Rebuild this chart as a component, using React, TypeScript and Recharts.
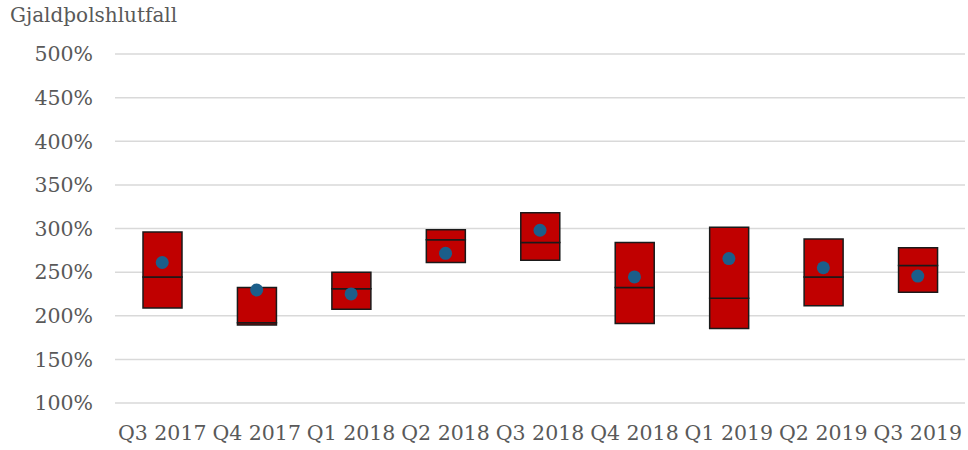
import { ComposedChart, Bar, Line, XAxis, YAxis, CartesianGrid } from 'recharts'

const quarters = ['Q3 2017', 'Q4 2017', 'Q1 2018', 'Q2 2018', 'Q3 2018', 'Q4 2018', 'Q1 2019', 'Q2 2019', 'Q3 2019']
const lowQuartile = [209, 189.5, 207.5, 261, 263.5, 191, 185.5, 211.5, 227]
const medians = [244.5, 192, 231, 287, 284, 232.5, 220, 244.5, 257.5]
const highQuartile = [296, 232.5, 250, 298.5, 318, 284, 301.5, 288, 278]
const means = [261, 229.5, 225, 271.5, 298, 244.5, 265.5, 255, 245.5]
const yTicks = [100, 150, 200, 250, 300, 350, 400, 450, 500]

const data = quarters.map((q, i) => ({
  q,
  base: lowQuartile[i],
  lower: medians[i] - lowQuartile[i],
  upper: highQuartile[i] - medians[i],
  mean: means[i],
}))

const font = 'DejaVu Serif'
const grey = '#595959'

export default function App() {
  return (
    <div style={{ position: 'absolute', left: 0, top: 0, width: 968, height: 450, background: '#fff' }}>
      <div
        style={{
          position: 'absolute',
          left: 10,
          top: 3,
          fontFamily: font,
          fontSize: 20,
          color: grey,
        }}
      >
        Gjaldþolshlutfall
      </div>
      <ComposedChart width={968} height={450} data={data} margin={{ top: 54, right: 3, left: 0, bottom: 0 }}>
        <CartesianGrid vertical={false} stroke="#d9d9d9" strokeWidth={1.5} />
        <XAxis
          dataKey="q"
          axisLine={false}
          tickLine={false}
          tickSize={0}
          tickMargin={22}
          height={47}
          tick={{ fill: grey, fontSize: 20.5, fontFamily: font }}
        />
        <YAxis
          domain={[100, 500]}
          ticks={yTicks}
          allowDataOverflow
          axisLine={false}
          tickLine={false}
          tickSize={0}
          tickMargin={22}
          width={115}
          tickFormatter={(v: number) => `${v}%`}
          tick={{ fill: grey, fontSize: 20.5, fontFamily: font }}
        />
        <Bar dataKey="base" stackId="box" fill="transparent" barSize={39} isAnimationActive={false} />
        <Bar dataKey="lower" stackId="box" fill="#c00000" stroke="#1a1a1a" strokeWidth={1.5} isAnimationActive={false} />
        <Bar dataKey="upper" stackId="box" fill="#c00000" stroke="#1a1a1a" strokeWidth={1.5} isAnimationActive={false} />
        <Line
          dataKey="mean"
          stroke="none"
          dot={{ r: 6.5, fill: '#1b5e8a', stroke: 'none' }}
          activeDot={false}
          isAnimationActive={false}
        />
      </ComposedChart>
    </div>
  )
}
